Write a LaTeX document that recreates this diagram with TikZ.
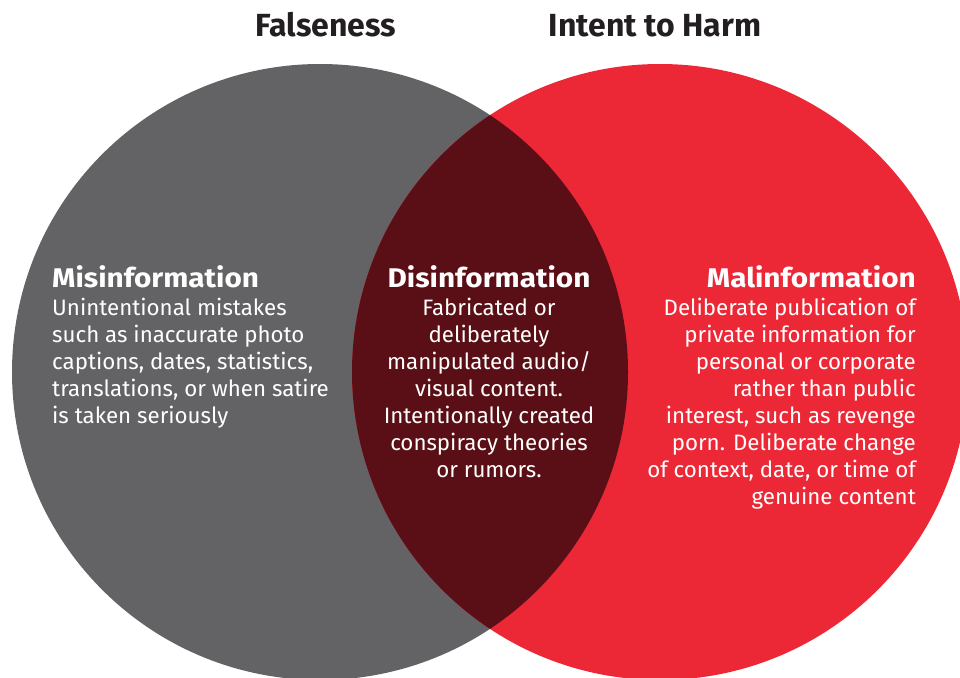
\documentclass[tikz,border=0pt]{standalone}
\usepackage{fontspec}
\setmainfont{Fira Sans}
\newfontfamily\widefont[FakeStretch=1.1]{Fira Sans}
\usetikzlibrary{positioning}

\definecolor{falsegray}{HTML}{636365}
\definecolor{harmred}{HTML}{EC2837}
\definecolor{bothred}{HTML}{5A0F16}
\definecolor{inkblack}{HTML}{231F20}

\begin{document}
\begin{tikzpicture}[x=1pt, y=-1pt,
    title/.style={font=\bfseries\fontsize{32}{36}\selectfont, text=inkblack, inner sep=0pt, anchor=base},
    head/.style={font=\widefont\bfseries\fontsize{27}{30}\selectfont, text=white, inner sep=0pt},
    body/.style={font=\fontsize{22.3}{27}\selectfont, text=white, inner sep=0pt}]

    \useasboundingbox (0,0) rectangle (960,677);
    \clip (0,0) rectangle (960,677);

    % the two sets and their overlap
    \fill[falsegray] (320,372) circle[radius=308pt];
    \fill[harmred] (660,372) circle[radius=308pt];
    \begin{scope}
        \clip (320,372) circle[radius=308pt];
        \fill[bothred] (660,372) circle[radius=308pt];
    \end{scope}

    \node[title] (falseness) at (326,37) {Falseness};
    \node[title] (harm) at (655,37) {Intent to Harm};

    \node[head, anchor=base west] (mis) at (52,287) {Misinformation};
    \node[head, anchor=base] (dis) at (489,287) {Disinformation};
    \node[head, anchor=base east] (mal) at (916,287) {Malinformation};

    \node[body, align=left, anchor=north west] (misbody) at ([yshift=-11pt]mis.base west)
        {Unintentional mistakes\\such as inaccurate photo\\captions, dates, statistics,\\translations, or when satire\\is taken seriously};
    \node[body, align=center, anchor=north] (disbody) at ([yshift=-11pt]dis.base)
        {Fabricated or\\deliberately\\manipulated audio/\\visual content.\\Intentionally created\\conspiracy theories\\or rumors.};
    \node[body, align=right, anchor=north east] (malbody) at ([yshift=-11pt]mal.base east)
        {Deliberate publication of\\private information for\\personal or corporate\\rather than public\\interest, such as revenge\\porn. Deliberate change\\of context, date, or time of\\genuine content};

\end{tikzpicture}
\end{document}
